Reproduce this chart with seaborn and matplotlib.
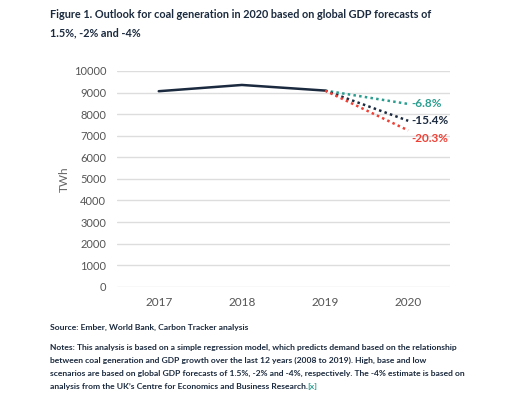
import pandas as pd
import matplotlib.pyplot as plt
import seaborn as sns

years = ["2017", "2018", "2019", "2020"]
history = [9060, 9350, 9090]
scenario_names = ["-6.8%", "-15.4%", "-20.3%"]
scenario_2020 = [8470, 7690, 7245]
scenario_colors = ["#2a9d8f", "#1b2a3e", "#ef4035"]

NAVY = "#1b2a3e"

sns.set_theme(style="whitegrid")
plt.rcParams["font.family"] = ["Lato", "DejaVu Sans"]

fig = plt.figure(figsize=(5.14, 3.94), dpi=100)
ax = fig.add_axes([0.228, 0.272, 0.647, 0.548])

hist_df = pd.DataFrame({"year": years[:3], "TWh": history})
sns.lineplot(data=hist_df, x="year", y="TWh", ax=ax, color=NAVY, linewidth=1.8, sort=False)

# scenario lines from 2019 to 2020
label_offsets = [0, 0, -6]
for name, val, col, off in zip(scenario_names, scenario_2020, scenario_colors, label_offsets):
    sdf = pd.DataFrame({"year": years[2:], "TWh": [history[-1], val]})
    sns.lineplot(data=sdf, x="year", y="TWh", ax=ax, color=col, linewidth=1.8,
                 linestyle=(0, (1, 1.3)), sort=False)
    ax.annotate(name, xy=(3, val), xytext=(2, off), textcoords="offset points",
                color=col, fontsize=8.5, fontweight="bold", va="center", ha="left",
                annotation_clip=False)

ax.set_ylim(0, 10000)
ax.set_xlim(-0.5, 3.5)
ax.set_yticks(range(0, 10001, 1000))
ax.set_xlabel("")
ax.set_ylabel("TWh", color="#666666", fontsize=8.5, labelpad=3)
ax.tick_params(axis="y", labelsize=8, colors="#555555", pad=8, length=0)
ax.tick_params(axis="x", labelsize=8.5, colors="#555555", pad=7, length=0)
ax.grid(axis="x", visible=False)
ax.grid(axis="y", color="#dddddd", linewidth=1)
for s in ax.spines.values():
    s.set_visible(False)

fig.text(0.097, 0.962, "Figure 1. Outlook for coal generation in 2020 based on global GDP forecasts of",
         fontsize=7.8, color=NAVY, fontweight="bold", va="center")
fig.text(0.097, 0.916, "1.5%, -2% and -4%", fontsize=7.8, color=NAVY, fontweight="bold", va="center")

fs = 6.1
fig.text(0.097, 0.170, "Source: Ember, World Bank, Carbon Tracker analysis",
         fontsize=fs, color=NAVY, fontweight="bold", va="center")
notes = [
    "Notes: This analysis is based on a simple regression model, which predicts demand based on the relationship",
    "between coal generation and GDP growth over the last 12 years (2008 to 2019). High, base and low",
    "scenarios are based on global GDP forecasts of 1.5%, -2% and -4%, respectively. The -4% estimate is based on",
]
for i, line in enumerate(notes):
    fig.text(0.097, 0.118 - i * 0.033, line, fontsize=fs, color=NAVY, fontweight="bold", va="center")
t = fig.text(0.097, 0.118 - 3 * 0.033, "analysis from the UK\u2019s Centre for Economics and Business Research.",
             fontsize=fs, color=NAVY, fontweight="bold", va="center")
fig.canvas.draw()
bb = t.get_window_extent()
fig.text(bb.x1 / fig.bbox.width, 0.118 - 3 * 0.033, "[x]", fontsize=fs, color="#2a9d8f",
         fontweight="bold", va="center")

fig.savefig("out.png", dpi=100)
